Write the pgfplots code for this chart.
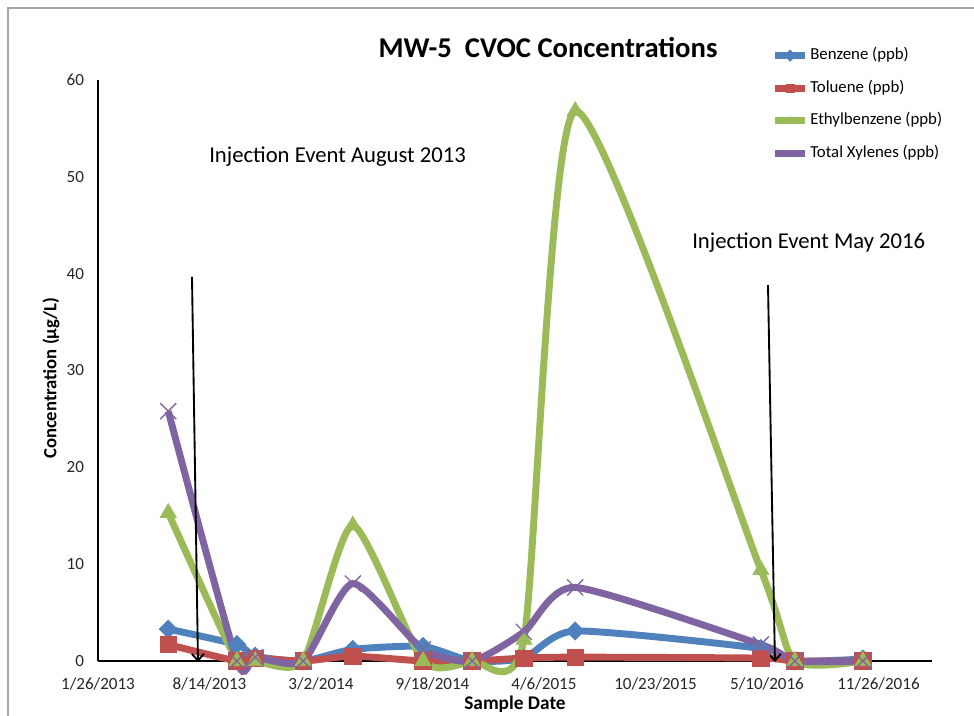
\documentclass[border=0pt]{standalone}
\usepackage{fontspec}
\setmainfont{Carlito}
\usepackage{pgfplots}
\usepackage{pgfplotstable}
\pgfplotsset{compat=1.18}
\usetikzlibrary{arrows.meta}
\definecolor{cBen}{HTML}{4F81BD}
\definecolor{cTol}{HTML}{C0504D}
\definecolor{cEth}{HTML}{9BBB59}
\definecolor{cXyl}{HTML}{8064A2}
\pgfplotstableread{
d ben tol eth xyl
126 3.3 1.7 15.3 25.8
249 1.7 0 0 0
282 0.5 0.3 0 0.4
368 0 0 0 0
457 1.2 0.5 14.0 8.0
583 1.5 0 0 1.2
671 0 0 0 0
764 0.3 0.3 2.2 3.0
856 3.1 0.4 56.8 7.6
1189 1.3 0.3 9.4 1.7
1250 0 0 0 0
1372 0.2 0 0 0
}\mwdata
\begin{document}
\begin{tikzpicture}
\useasboundingbox (0,0) rectangle (730.5pt,-536.25pt);
\draw[color=black!35, line width=1pt] (6pt,-540pt) -- (6pt,-6pt) -- (735pt,-6pt);
\begin{axis}[
  at={(73.5pt,-495.75pt)}, anchor=south west,
  scale only axis, width=625.5pt, height=435.75pt,
  xmin=0, xmax=1496, ymin=0, ymax=60,
  axis x line*=bottom, axis y line*=left,
  axis line style={line width=2.2pt, black},
  xtick={0,200,...,1400},
  xticklabels={1/26/2013,8/14/2013,3/2/2014,9/18/2014,4/6/2015,10/23/2015,5/10/2016,11/26/2016},
  ytick={0,10,...,60},
  major tick length=0pt,
  tick style={draw=none},
  ticklabel style={font=\fontsize{12.8}{14}\selectfont, color=black!85},
  xticklabel style={yshift=-9pt},
  yticklabel style={xshift=-7pt},
  /pgf/number format/assume math mode=true,
  clip=false,
  title={MW-5\ \ CVOC Concentrations},
  title style={font=\bfseries\fontsize{21.5}{23}\selectfont, at={(axis description cs:0.5396,1.0379)}, anchor=base, yshift=-6pt},
  xlabel={Sample Date},
  xlabel style={font=\bfseries\fontsize{14.5}{16}\selectfont, at={(axis description cs:0.5,-0.0843)}, anchor=base},
  ylabel={Concentration (µg/L)},
  ylabel style={font=\bfseries\fontsize{14}{16}\selectfont, at={(axis description cs:-0.0564,0.487)}, anchor=center},
  legend style={at={(axis description cs:0.807,1.0585)}, anchor=north west, draw=none, fill=none,
    font=\fontsize{12.6}{14}\selectfont, row sep=10.4pt, inner sep=0pt,
    nodes={inner sep=1pt, text height=9pt, text depth=3pt},
    /tikz/every even column/.append style={column sep=0pt}},
  legend cell align=left,
  legend image code/.code={\draw[#1, mark size=3pt, mark repeat=2, mark phase=2] plot coordinates {(0pt,0pt) (11.5pt,0pt) (23pt,0pt)};},
  every axis plot/.append style={line width=5.2pt, smooth, tension=0.38},
]
\addplot[color=cBen, mark=square*, mark size=4.8pt, mark options={solid, rotate=45, line width=0.5pt, fill=cBen}] table[x=d, y=ben] {\mwdata};
\addlegendentry{Benzene (ppb)}
\addplot[color=cTol, mark=square*, mark size=6.2pt, mark options={solid, line width=0.5pt, fill=cTol}] table[x=d, y=tol] {\mwdata};
\addlegendentry{Toluene (ppb)}
\addplot[color=cEth, mark=triangle*, mark size=7pt, mark options={solid, line width=0.5pt, fill=cEth}] table[x=d, y=eth] {\mwdata};
\addlegendentry{Ethylbenzene (ppb)}
\addplot[color=cXyl, mark=x, mark size=8.5pt, mark options={solid, line width=1pt}] table[x=d, y=xyl] {\mwdata};
\addlegendentry{Total Xylenes (ppb)}
\draw[line width=1.4pt, black, -{Straight Barb[length=5pt, width=9pt, line width=1.4pt]}] (axis cs:168.6,39.66) -- (axis cs:179.4,-0.1);
\draw[line width=1.4pt, black, -{Straight Barb[length=5pt, width=9pt, line width=1.4pt]}] (axis cs:1201.8,38.83) -- (axis cs:1214.3,-0.1);
\end{axis}
\node[anchor=base west, font=\fontsize{17}{19}\selectfont, inner sep=0pt] at (156.75pt,-121.5pt) {Injection Event August 2013};
\node[anchor=base west, font=\fontsize{17}{19}\selectfont, inner sep=0pt] at (519pt,-186.5pt) {Injection Event May 2016};
\end{tikzpicture}
\end{document}
